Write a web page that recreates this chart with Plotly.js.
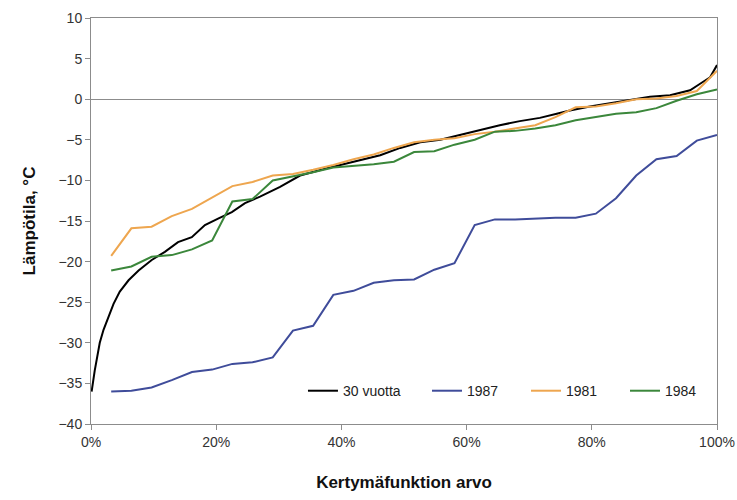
<!DOCTYPE html>
<html><head><meta charset="utf-8">
<script src="https://cdn.plot.ly/plotly-3.0.1.min.js"></script>
<style>body{margin:0;background:#fff}#chart{width:737px;height:500px}</style>
</head><body><div id="chart"></div>
<script>
// Day of January (1..31) -> empirical cumulative probability day/31
const days = [1,2,3,4,5,6,7,8,9,10,11,12,13,14,15,16,17,18,19,20,21,22,23,24,25,26,27,28,29,30,31];

const y1987 = [-36.0,-35.9,-35.5,-34.6,-33.6,-33.3,-32.6,-32.4,-31.8,-28.5,-27.9,-24.1,-23.6,-22.6,-22.3,-22.2,-21.0,-20.2,-15.5,-14.8,-14.8,-14.7,-14.6,-14.6,-14.1,-12.2,-9.4,-7.4,-7.0,-5.1,-4.4];
const y1981 = [-19.3,-15.9,-15.7,-14.4,-13.5,-12.1,-10.7,-10.2,-9.4,-9.2,-8.7,-8.1,-7.4,-6.8,-6.0,-5.3,-5.0,-4.8,-4.3,-4.0,-3.6,-3.2,-2.2,-1.0,-0.9,-0.5,0.0,0.1,0.4,1.0,3.5];
const y1984 = [-21.1,-20.6,-19.4,-19.2,-18.5,-17.4,-12.6,-12.3,-10.0,-9.5,-9.0,-8.4,-8.2,-8.0,-7.7,-6.5,-6.4,-5.6,-5.0,-4.0,-3.9,-3.6,-3.2,-2.6,-2.2,-1.8,-1.6,-1.1,-0.2,0.6,1.2];

// 30-year distribution (percent, temperature)
const p30 = [0.1,0.6,1.4,2.0,2.8,3.6,4.6,6.0,7.6,9.7,11.8,13.9,16.1,18.2,20.3,22.5,24.6,27.0,30.2,33.4,37.7,41.9,46.2,49.4,52.6,55.8,58.9,62.1,65.3,68.5,71.7,74.4,76.5,79.7,82.9,86.1,89.3,92.5,95.7,97.3,98.9,100];
const y30 = [-36.0,-33.4,-30.0,-28.4,-26.8,-25.2,-23.7,-22.3,-21.1,-19.8,-18.8,-17.6,-17.0,-15.5,-14.7,-13.9,-12.8,-12.0,-10.8,-9.4,-8.5,-7.7,-6.9,-6.0,-5.3,-5.0,-4.4,-3.8,-3.2,-2.7,-2.3,-1.8,-1.4,-0.9,-0.5,-0.1,0.3,0.5,1.1,1.9,2.7,4.2];

const seriesNames = ['30 vuotta','1987','1981','1984'];
const seriesColors = ['#000000','#3f4c9a','#eea64f','#3b873b'];
const seriesLegend = ['legend','legend2','legend2','legend2'];

const yearProb = days.map(d => d / 31);
const xs30 = p30.map(p => p / 100);

const traces = [
  {x: xs30, y: y30},
  {x: yearProb, y: y1987},
  {x: yearProb, y: y1981},
  {x: yearProb, y: y1984}
].map((t, i) => Object.assign(t, {
  type: 'scatter', mode: 'lines', name: seriesNames[i], legend: seriesLegend[i],
  line: {color: seriesColors[i], width: 2}
}));

const font = {family: 'Liberation Sans, Arial, sans-serif', color: '#222'};
const legendBase = {
  orientation: 'h', y: 0.081, yanchor: 'middle', itemwidth: 30,
  bgcolor: 'rgba(0,0,0,0)', font: {size: 14, color: '#222'}
};
const layout = {
  width: 737, height: 500,
  margin: {l: 91, r: 20, t: 18, b: 76, autoexpand: false},
  paper_bgcolor: '#fff', plot_bgcolor: '#fff',
  font: Object.assign({size: 13}, font),
  showlegend: true,
  legend: Object.assign({x: 0.3386, xanchor: 'left'}, legendBase),
  legend2: Object.assign({x: 0.5367, xanchor: 'left', entrywidth: 54, entrywidthmode: 'pixels'}, legendBase),
  xaxis: {
    range: [0, 1], tickvals: [0, 0.2, 0.4, 0.6, 0.8, 1], tickformat: '.0%',
    showgrid: false, zeroline: false, showline: true, linecolor: '#8c8c8c', linewidth: 1,
    mirror: true, ticks: 'outside', ticklen: 5, tickcolor: '#8c8c8c',
    tickfont: {size: 14, color: '#333'},
    title: {text: 'Kertymäfunktion arvo', font: {size: 17, color: '#111', weight: 'bold'}, standoff: 27}
  },
  yaxis: {
    range: [-40, 10], dtick: 5, tick0: 0,
    showgrid: false, zeroline: true, zerolinecolor: '#8c8c8c', zerolinewidth: 1,
    showline: true, linecolor: '#8c8c8c', linewidth: 1, mirror: true,
    ticks: 'outside', ticklen: 5, tickcolor: '#8c8c8c',
    tickfont: {size: 14, color: '#333'},
    title: {text: 'Lämpötila, °C', font: {size: 17, color: '#111', weight: 'bold'}, standoff: 18}
  }
};

Plotly.newPlot('chart', traces, layout, {displayModeBar: false, staticPlot: true});
</script>
</body></html>
